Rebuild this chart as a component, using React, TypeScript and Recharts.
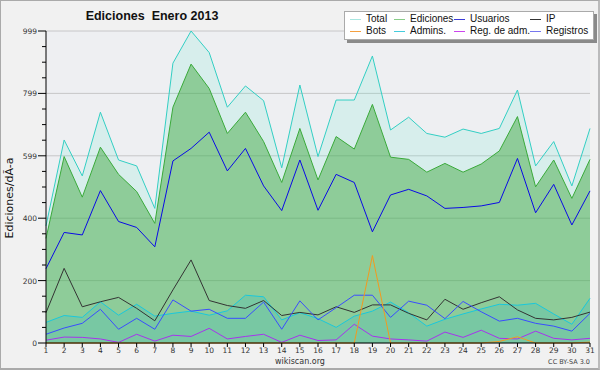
import React from 'react';
import { ComposedChart, Area, Line, XAxis, YAxis, CartesianGrid } from 'recharts';

const days = [1, 2, 3, 4, 5, 6, 7, 8, 9, 10, 11, 12, 13, 14, 15, 16, 17, 18, 19, 20, 21, 22, 23, 24, 25, 26, 27, 28, 29, 30, 31];
const total = [375, 650, 535, 739, 586, 567, 431, 896, 999, 930, 755, 823, 776, 561, 826, 597, 778, 778, 919, 682, 723, 671, 659, 685, 671, 687, 810, 567, 645, 503, 687];
const ediciones = [335, 597, 467, 627, 540, 485, 383, 755, 893, 815, 671, 739, 645, 514, 687, 522, 661, 621, 764, 595, 588, 547, 575, 547, 573, 615, 725, 500, 586, 463, 588];
const usuarios = [238, 354, 346, 488, 389, 370, 308, 583, 623, 675, 551, 623, 503, 424, 586, 425, 540, 514, 356, 474, 492, 471, 431, 434, 439, 450, 591, 417, 508, 378, 487];
const ip = [97, 239, 116, 132, 146, 111, 71, 170, 266, 136, 120, 111, 136, 88, 98, 90, 116, 98, 122, 122, 95, 74, 140, 108, 129, 148, 106, 79, 74, 82, 99];
const bots = [0, 0, 0, 0, 0, 0, 0, 0, 0, 0, 0, 0, 0, 0, 0, 0, 0, 0, 280, 0, 0, 0, 0, 0, 0, 5, 20, 0, 0, 0, 3];
const admins = [66, 88, 82, 132, 89, 124, 86, 95, 102, 89, 103, 153, 148, 74, 97, 78, 50, 86, 102, 131, 97, 54, 76, 93, 109, 124, 121, 127, 93, 60, 143];
const regAdm = [9, 19, 18, 13, 2, 28, 6, 25, 21, 47, 13, 21, 28, 2, 25, 8, 10, 60, 22, 13, 10, 6, 35, 18, 41, 15, 13, 38, 15, 10, 15];
const registros = [28, 48, 63, 108, 44, 79, 44, 138, 102, 108, 79, 79, 131, 44, 135, 74, 113, 153, 153, 82, 134, 121, 78, 133, 100, 70, 79, 63, 54, 38, 95];

const yMajorTicks = [0, 199.8, 399.6, 599.4, 799.2, 999];
const yTickLabels = ['0', '200', '400', '599', '799', '999'];

const legendItems = [
  { name: 'Total', color: '#a8e6e0' },
  { name: 'Ediciones', color: '#88cc88' },
  { name: 'Usuarios', color: '#3b3bd8' },
  { name: 'IP', color: '#333333' },
  { name: 'Bots', color: '#f5a040' },
  { name: 'Admins.', color: '#44ccdd' },
  { name: 'Reg. de adm.', color: '#cc44ee' },
  { name: 'Registros', color: '#7777ee' },
];

const data = days.map((d, i) => ({
  day: d,
  total: total[i],
  ediciones: ediciones[i],
  usuarios: usuarios[i],
  ip: ip[i],
  bots: bots[i],
  admins: admins[i],
  regAdm: regAdm[i],
  registros: registros[i],
}));

const yAllTicks: number[] = [];
for (let i = 0; i < yMajorTicks.length - 1; i++) {
  const a = yMajorTicks[i];
  const b = yMajorTicks[i + 1];
  for (let k = 0; k < 4; k++) yAllTicks.push(a + ((b - a) * k) / 4);
}
yAllTicks.push(yMajorTicks[yMajorTicks.length - 1]);

const FONT = 'DejaVu Sans, Verdana, sans-serif';

const YTick = (props: any) => {
  const { x, y, payload } = props;
  const idx = yMajorTicks.findIndex((v) => Math.abs(v - payload.value) < 0.01);
  if (idx >= 0) {
    return (
      <g>
        <line x1={x - 8} x2={x} y1={y} y2={y} stroke="#000" />
        <text x={x - 9} y={y} dy={3} textAnchor="end" fontSize={7.5} fill="#333" fontFamily={FONT}>
          {yTickLabels[idx]}
        </text>
      </g>
    );
  }
  return <line x1={x - 4} x2={x} y1={y} y2={y} stroke="#000" />;
};

const colX = [5, 49, 109, 185];

export default function App() {
  return (
    <div style={{ position: 'absolute', left: 0, top: 0, width: 600, height: 370, background: '#f1f1f1', overflow: 'hidden' }}>
      <ComposedChart width={600} height={370} data={data} margin={{ top: 31, right: 10, bottom: 0, left: 0 }}>
        <CartesianGrid
          vertical={false}
          horizontalValues={yMajorTicks}
          stroke="#c6c6c8"
          fill="#eeeff2"
          fillOpacity={1}
        />
        <XAxis
          type="number"
          dataKey="day"
          domain={[1, 31]}
          ticks={days}
          interval={0}
          height={27}
          tickSize={4}
          tickMargin={1}
          stroke="#000"
          tick={{ fontSize: 7.5, fill: '#333', fontFamily: FONT }}
        />
        <YAxis
          type="number"
          domain={[0, 999]}
          ticks={yAllTicks}
          interval={0}
          width={46}
          tickSize={0}
          tickMargin={0}
          tickLine={false}
          stroke="#000"
          tick={<YTick />}
        />
        <Area type="linear" dataKey="total" stroke="#33cfc4" strokeWidth={1} fill="#64f0d2" fillOpacity={0.17} dot={false} activeDot={false} isAnimationActive={false} />
        <Area type="linear" dataKey="ediciones" stroke="#3aaa3a" strokeWidth={1} fill="#3ca53c" fillOpacity={0.47} dot={false} activeDot={false} isAnimationActive={false} />
        <Area type="linear" dataKey="admins" stroke="#19c8dc" strokeWidth={1} fill="#00b4dc" fillOpacity={0.15} dot={false} activeDot={false} isAnimationActive={false} />
        <Line type="linear" dataKey="usuarios" stroke="#0a0ae6" strokeWidth={1} dot={false} activeDot={false} isAnimationActive={false} />
        <Line type="linear" dataKey="ip" stroke="#333333" strokeWidth={1} dot={false} activeDot={false} isAnimationActive={false} />
        <Line type="linear" dataKey="registros" stroke="#3a4cff" strokeWidth={1} dot={false} activeDot={false} isAnimationActive={false} />
        <Line type="linear" dataKey="regAdm" stroke="#a633ee" strokeWidth={1} dot={false} activeDot={false} isAnimationActive={false} />
        <Line type="linear" dataKey="bots" stroke="#f39a1e" strokeWidth={1} dot={false} activeDot={false} isAnimationActive={false} />
      </ComposedChart>

      <div style={{ position: 'absolute', left: 52, top: 8, width: 200, textAlign: 'center', fontFamily: 'Liberation Sans, Arial, sans-serif', fontWeight: 'bold', fontSize: 12.5, whiteSpace: 'pre', color: '#111', lineHeight: '16px' }}>
        {'Ediciones  Enero 2013'}
      </div>

      <div style={{ position: 'absolute', left: 10 - 60, top: 198 - 8, width: 120, height: 16, textAlign: 'center', transform: 'rotate(-90deg)', fontFamily: FONT, fontSize: 11, color: '#111', lineHeight: '16px', whiteSpace: 'pre' }}>
        {'Ediciones/dÃ-a'}
      </div>

      <div style={{ position: 'absolute', left: 250, top: 356, width: 100, textAlign: 'center', fontFamily: FONT, fontSize: 8, color: '#333', lineHeight: '12px' }}>
        wikiscan.org
      </div>
      <div style={{ position: 'absolute', left: 490, top: 357, width: 100, textAlign: 'right', fontFamily: FONT, fontSize: 6.5, color: '#444', lineHeight: '10px' }}>
        CC BY-SA 3.0
      </div>

      <div style={{ position: 'absolute', left: 344, top: 11, width: 248, height: 27, background: '#fff', border: '1px solid #aaa', boxShadow: '3px 3px 0 #8a8a8a', fontFamily: 'Liberation Sans, Arial, sans-serif', fontSize: 10, color: '#111' }}>
        {legendItems.map((it, i) => {
          const col = i % 4;
          const row = Math.floor(i / 4);
          const cy = row === 0 ? 7 : 19;
          return (
            <div key={it.name}>
              <div style={{ position: 'absolute', left: colX[col], top: cy, width: 11, height: 1, background: it.color }} />
              <div style={{ position: 'absolute', left: colX[col] + 16, top: cy - 6, height: 12, lineHeight: '12px', whiteSpace: 'pre' }}>{it.name}</div>
            </div>
          );
        })}
      </div>

      <div style={{ position: 'absolute', left: 0, top: 0, width: 600, height: 370, boxSizing: 'border-box', borderTop: '1px solid #aaa', borderLeft: '1px solid #aaa', borderRight: '2px solid #bbb', borderBottom: '2px solid #aaa', pointerEvents: 'none' }} />
    </div>
  );
}
